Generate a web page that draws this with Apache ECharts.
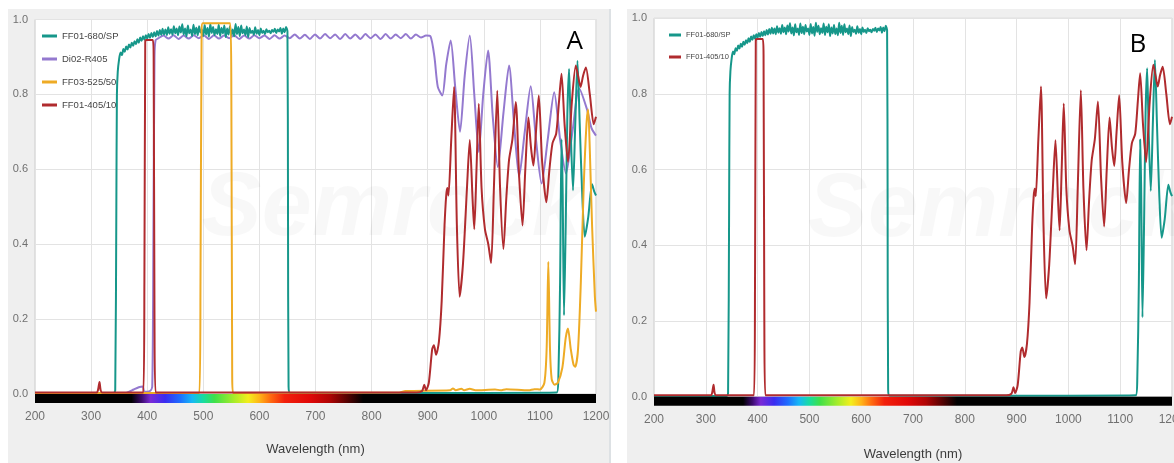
<!DOCTYPE html>
<html>
<head>
<meta charset="utf-8">
<script src="https://cdn.jsdelivr.net/npm/echarts@6/dist/echarts.min.js"></script>
<style>
  html, body { margin: 0; padding: 0; background: #ffffff; }
  #chart { width: 1174px; height: 463px; }
</style>
</head>
<body>
<div id="chart"></div>
<script>
// ---- Transmission spectra (wavelength nm, transmission 0..1) ----
const PANEL_A_SERIES = ['FF01-680/SP', 'Di02-R405', 'FF03-525/50', 'FF01-405/10'];
const PANEL_B_SERIES = ['FF01-680/SP', 'FF01-405/10'];
const PANEL_LETTERS = ['A', 'B'];
const X_TICKS = [200, 300, 400, 500, 600, 700, 800, 900, 1000, 1100, 1200];
const Y_TICKS = [0.0, 0.2, 0.4, 0.6, 0.8, 1.0];

// FF01-680/SP short-pass
const sp680 = [
  [200,0.002],[340,0.002],[343,0.01],[345,0.5],[346,0.8],[347.5,0.86],
  [350,0.895],[352.5,0.912],[355,0.905],[357.5,0.921],[360,0.914],[362.5,0.928],[365,0.92],[367.5,0.933],
  [370,0.925],[372.5,0.938],[375,0.93],[377.5,0.942],[380,0.934],[382.5,0.947],[385,0.938],[387.5,0.952],
  [390,0.943],[392.5,0.955],[395,0.946],[397.5,0.958],[400,0.949],[402.5,0.961],[405,0.951],[407.5,0.964],
  [410,0.953],[412.5,0.966],[415,0.955],[417.5,0.969],[420,0.957],[422.5,0.972],[425,0.959],[427.5,0.975],
  [430,0.96],[432.5,0.973],[435,0.958],[437.5,0.979],[440,0.962],[442.5,0.974],[445,0.959],[447.5,0.982],
  [450,0.963],[452.5,0.976],[455,0.958],[457.5,0.981],[460,0.965],[462.5,0.987],[465,0.96],[467.5,0.976],
  [470,0.955],[472.5,0.984],[475,0.963],[477.5,0.973],[480,0.956],[482.5,0.986],[485,0.961],[487.5,0.978],
  [490,0.958],[492.5,0.982],[495,0.965],[497.5,0.973],[500,0.956],[502.5,0.985],[505,0.96],[507.5,0.977],
  [510,0.954],[512.5,0.988],[515,0.964],[517.5,0.98],[520,0.958],[522.5,0.974],[525,0.961],[527.5,0.986],
  [530,0.956],[532.5,0.978],[535,0.963],[537.5,0.984],[540,0.953],[542.5,0.976],[545,0.96],[547.5,0.982],
  [550,0.958],[552.5,0.973],[555,0.955],[557.5,0.988],[560,0.961],[562.5,0.98],[565,0.956],[567.5,0.984],
  [570,0.963],[572.5,0.973],[575,0.958],[577.5,0.981],[580,0.953],[582.5,0.977],[585,0.964],[587.5,0.97],
  [590,0.959],[592.5,0.979],[595,0.962],[597.5,0.972],[600,0.958],[602.5,0.976],[605,0.964],[607.5,0.97],
  [610,0.961],[612.5,0.974],[615,0.966],[617.5,0.97],[620,0.963],[622.5,0.972],[625,0.967],[627.5,0.975],
  [630,0.964],[632.5,0.973],[635,0.968],[637.5,0.977],[640,0.962],[642.5,0.976],[645,0.966],[647.5,0.98],
  [650,0.968],[651,0.5],[652,0.02],[655,0.003],[900,0.003],[1000,0.003],[1130,0.004],
  [1133,0.05],[1136,0.3],[1138.5,0.68],[1140.5,0.55],[1143,0.21],[1146,0.45],[1149,0.75],[1152,0.868],
  [1155,0.7],[1159,0.544],[1163,0.72],[1167,0.89],[1171,0.72],[1175,0.55],[1180,0.42],[1186,0.47],
  [1193,0.56],[1197,0.54],[1200,0.53]
];

// Di02-R405 dichroic
const di405 = [
  [200,0.002],[360,0.002],[368,0.006],[376,0.012],[385,0.018],[392,0.02],[395,0.006],[405,0.008],
  [409,0.02],[411,0.4],[413,0.9],[415,0.945],
  [420,0.95],[429,0.957],[438,0.949],[447,0.958],[456,0.948],[465,0.957],[474,0.949],[483,0.958],
  [492,0.95],[501,0.957],[510,0.948],[519,0.958],[528,0.949],[537,0.957],[546,0.95],[555,0.958],
  [564,0.948],[573,0.957],[582,0.949],[591,0.958],[600,0.95],[609,0.957],[618,0.948],[627,0.958],
  [636,0.949],[645,0.957],[654,0.95],[663,0.96],[672,0.949],[681,0.959],[690,0.948],[699,0.96],
  [708,0.949],[717,0.961],[726,0.95],[735,0.96],[744,0.948],[753,0.961],[762,0.949],[771,0.96],
  [780,0.948],[789,0.961],[798,0.95],[807,0.96],[816,0.948],[825,0.961],[834,0.949],[843,0.96],
  [852,0.95],[861,0.961],[870,0.949],[879,0.96],[888,0.952],[897,0.957],[905,0.955],
  [912,0.9],[918,0.82],[926,0.797],[933,0.88],[941,0.944],[949,0.82],[957.6,0.70],[966,0.85],
  [975,0.957],[983,0.8],[991,0.646],[999,0.8],[1007.6,0.917],[1016,0.74],[1025,0.606],[1035,0.75],
  [1045,0.877],[1054,0.72],[1063,0.58],[1073,0.7],[1083.6,0.822],[1093,0.68],[1103,0.562],[1114,0.68],
  [1125.5,0.806],[1136,0.68],[1146.5,0.589],[1158,0.7],[1170,0.816],[1184,0.76],[1192,0.71],[1200,0.69]
];

// FF03-525/50 band-pass
const bp525 = [
  [200,0.003],[493,0.003],[495,0.3],[497,0.97],[499,0.99],[548,0.99],[550,0.8],[551.5,0.05],[553,0.003],
  [850,0.004],[860,0.008],[940,0.01],[945,0.015],[950,0.01],[960,0.014],[965,0.01],[975,0.014],
  [985,0.01],[1020,0.012],[1030,0.01],[1040,0.013],[1080,0.01],[1090,0.013],[1100,0.012],
  [1108,0.03],[1112,0.12],[1115,0.353],[1118,0.12],[1121,0.04],[1126,0.025],[1132,0.03],[1140,0.07],
  [1146,0.15],[1150,0.175],[1155,0.12],[1160,0.078],[1163,0.073],[1168,0.12],[1173,0.3],[1178,0.55],
  [1183,0.72],[1186,0.76],[1189,0.65],[1193,0.45],[1198,0.26],[1200,0.22]
];

// FF01-405/10 band-pass
const bp405 = [
  [200,0.004],[310,0.004],[312.5,0.012],[315,0.032],[317,0.01],[320,0.004],[393,0.004],[395,0.3],
  [396.5,0.94],[398,0.945],[410,0.945],[411.5,0.9],[413,0.2],[415,0.004],[880,0.004],[890,0.008],
  [894,0.025],[897,0.01],[902,0.03],[908,0.12],[911,0.13],[915,0.105],[920,0.14],[925,0.25],
  [930,0.45],[933,0.53],[935,0.55],[937,0.53],[942,0.68],[947,0.82],[952,0.45],[957,0.26],
  [963,0.35],[970,0.55],[975,0.678],[980,0.52],[983,0.44],[987,0.6],[991,0.775],[996,0.55],
  [1002,0.44],[1008,0.40],[1013,0.35],[1018,0.55],[1024,0.81],[1029,0.55],[1035,0.387],[1040,0.52],
  [1045,0.625],[1051,0.68],[1057,0.78],[1063,0.58],[1069,0.45],[1074,0.6],[1079.5,0.738],[1084,0.66],
  [1088.5,0.61],[1093,0.7],[1098,0.797],[1104,0.62],[1111.5,0.512],[1117,0.6],[1122.5,0.67],
  [1129,0.695],[1134,0.78],[1138.5,0.855],[1144,0.72],[1150,0.62],[1157,0.78],[1164,0.877],
  [1168,0.85],[1172.5,0.82],[1177,0.85],[1182,0.872],[1189,0.8],[1196,0.72],[1200,0.74]
];

// Visible-spectrum strip under the wavelength axis (nm, colour)
const SPECTRUM = [
  [200,'#000000'],[372,'#000000'],[390,'#3c0a6e'],[406,'#7a2ad6'],[432,'#3a2cf0'],[458,'#1f6cff'],
  [480,'#16b8f5'],[500,'#18dca0'],[520,'#3fe04a'],[555,'#a8ec2a'],[580,'#f3ee1c'],[600,'#ffb417'],
  [620,'#ff6a10'],[645,'#f2200c'],[690,'#e00808'],[725,'#b00404'],[755,'#5a0202'],[785,'#000000'],
  [1200,'#000000']
];

const DATA = {
  'FF01-680/SP': sp680,
  'Di02-R405': di405,
  'FF03-525/50': bp525,
  'FF01-405/10': bp405
};
const COLORS = {
  'FF01-680/SP': '#16978a',
  'Di02-R405': '#9479cf',
  'FF03-525/50': '#eeab25',
  'FF01-405/10': '#b02b2e'
};
// drawing order: dichroic underneath, then short-pass, then band-passes
const DRAW_ORDER = ['Di02-R405', 'FF01-680/SP', 'FF03-525/50', 'FF01-405/10'];

const SANS = "'Liberation Sans', Arial, sans-serif";

// panel letter anchors in data units (wavelength, transmission)
const LETTER_AT = [[1162, 0.94], [1134, 0.93]];

const GRIDS = [
  { left: 35, top: 19.5, width: 561, height: 374.5, nameGap: 49 },
  { left: 654, top: 18.3, width: 518, height: 378.5, nameGap: 51 }
];

const chart = echarts.init(document.getElementById('chart'), null, { renderer: 'canvas' });

function xAxisFor(i) {
  return {
    gridIndex: i, type: 'value',
    min: X_TICKS[0], max: X_TICKS[X_TICKS.length - 1], interval: X_TICKS[1] - X_TICKS[0],
    axisLine: { show: false }, axisTick: { show: false },
    axisLabel: { color: '#707070', fontSize: 12, margin: 17, fontFamily: SANS,
                 showMinLabel: true, showMaxLabel: true, formatter: v => String(v) },
    splitLine: { show: true, lineStyle: { color: '#e3e3e3', width: 1 } },
    name: 'Wavelength (nm)', nameLocation: 'middle', nameGap: GRIDS[i].nameGap,
    nameTextStyle: { color: '#3c3c3c', fontSize: 13, fontFamily: SANS }
  };
}
function yAxisFor(i) {
  return {
    gridIndex: i, type: 'value',
    min: Y_TICKS[0], max: Y_TICKS[Y_TICKS.length - 1], interval: Y_TICKS[1] - Y_TICKS[0],
    axisLine: { show: false }, axisTick: { show: false },
    axisLabel: { color: '#707070', fontSize: 11, margin: 7, fontFamily: SANS,
                 formatter: v => v.toFixed(1) },
    splitLine: { show: true, lineStyle: { color: '#e3e3e3', width: 1 } }
  };
}

const series = [];
[PANEL_A_SERIES, PANEL_B_SERIES].forEach((names, i) => {
  DRAW_ORDER.filter(n => names.includes(n)).forEach(n => {
    series.push({
      name: n, type: 'line', xAxisIndex: i, yAxisIndex: i,
      data: DATA[n], showSymbol: false, smooth: 0.25,
      lineStyle: { color: COLORS[n], width: 2 },
      itemStyle: { color: COLORS[n] },
      emphasis: { disabled: true }, z: 2
    });
  });
});

function legendFor(names, left, top, itemWidth, fontSize, gap) {
  return {
    data: names, orient: 'vertical', left: left, top: top, padding: 0,
    itemWidth: itemWidth, itemHeight: 3, itemGap: gap, icon: 'rect', selectedMode: false,
    textStyle: { color: '#454545', fontSize: fontSize, fontFamily: SANS }
  };
}

const option = {
  animation: false,
  backgroundColor: '#ffffff',
  grid: GRIDS.map(g => ({ left: g.left, top: g.top, width: g.width, height: g.height, show: true,
                          outerBoundsMode: 'none', containLabel: false,
                          backgroundColor: '#ffffff', borderColor: '#cccccc', borderWidth: 1 })),
  xAxis: [xAxisFor(0), xAxisFor(1)],
  yAxis: [yAxisFor(0), yAxisFor(1)],
  legend: [
    legendFor(PANEL_A_SERIES, 42, 31, 15, 9.5, 13),
    legendFor(PANEL_B_SERIES, 669, 31, 12, 7.5, 14)
  ],
  series: series
};
chart.setOption(option);

// Panel backdrops, watermark, letters and the spectrum strip, placed from the axes
function buildGraphics() {
  const els = [
    { type: 'rect', id: 'bgA', z: -5, shape: { x: 8, y: 9, width: 602, height: 454 },
      style: { fill: '#efefef' } },
    { type: 'rect', id: 'bgB', z: -5, shape: { x: 627, y: 9, width: 547, height: 454 },
      style: { fill: '#efefef' } },
    { type: 'rect', id: 'edgeA', z: -4, shape: { x: 609, y: 9, width: 2, height: 454 },
      style: { fill: '#dde1e4' } }
  ];
  [0, 1].forEach(i => {
    const p0 = chart.convertToPixel({ xAxisIndex: i, yAxisIndex: i }, [X_TICKS[0], 0]);
    const p1 = chart.convertToPixel({ xAxisIndex: i, yAxisIndex: i }, [X_TICKS[X_TICKS.length - 1], 0]);
    const pMark = chart.convertToPixel({ xAxisIndex: i, yAxisIndex: i }, [497, 0.49]);
    const pLetter = chart.convertToPixel({ xAxisIndex: i, yAxisIndex: i }, LETTER_AT[i]);
    const span = X_TICKS[X_TICKS.length - 1] - X_TICKS[0];
    const stops = SPECTRUM.map(s => ({ offset: (s[0] - X_TICKS[0]) / span, color: s[1] }));
    els.push({
      type: 'rect', id: 'strip' + i, z: 10,
      shape: { x: p0[0], y: p0[1], width: p1[0] - p0[0], height: 9 },
      style: { fill: new echarts.graphic.LinearGradient(0, 0, 1, 0, stops) }
    });
    els.push({
      type: 'text', id: 'mark' + i, z: 1,
      x: pMark[0], y: pMark[1],
      style: { text: 'Semrock', fill: 'rgba(0,0,0,0.028)', font: 'italic bold 90px "Liberation Sans", sans-serif',
               textAlign: 'left', textVerticalAlign: 'middle', align: 'left', verticalAlign: 'middle' }
    });
    els.push({
      type: 'text', id: 'letter' + i, z: 20,
      x: pLetter[0], y: pLetter[1],
      style: { text: PANEL_LETTERS[i], fill: '#000000', font: '26px "Open Sans", "Noto Sans", sans-serif',
               textAlign: 'center', textVerticalAlign: 'middle', align: 'center', verticalAlign: 'middle' }
    });
  });
  chart.setOption({ graphic: { elements: els } });
}
buildGraphics();
</script>
</body>
</html>
